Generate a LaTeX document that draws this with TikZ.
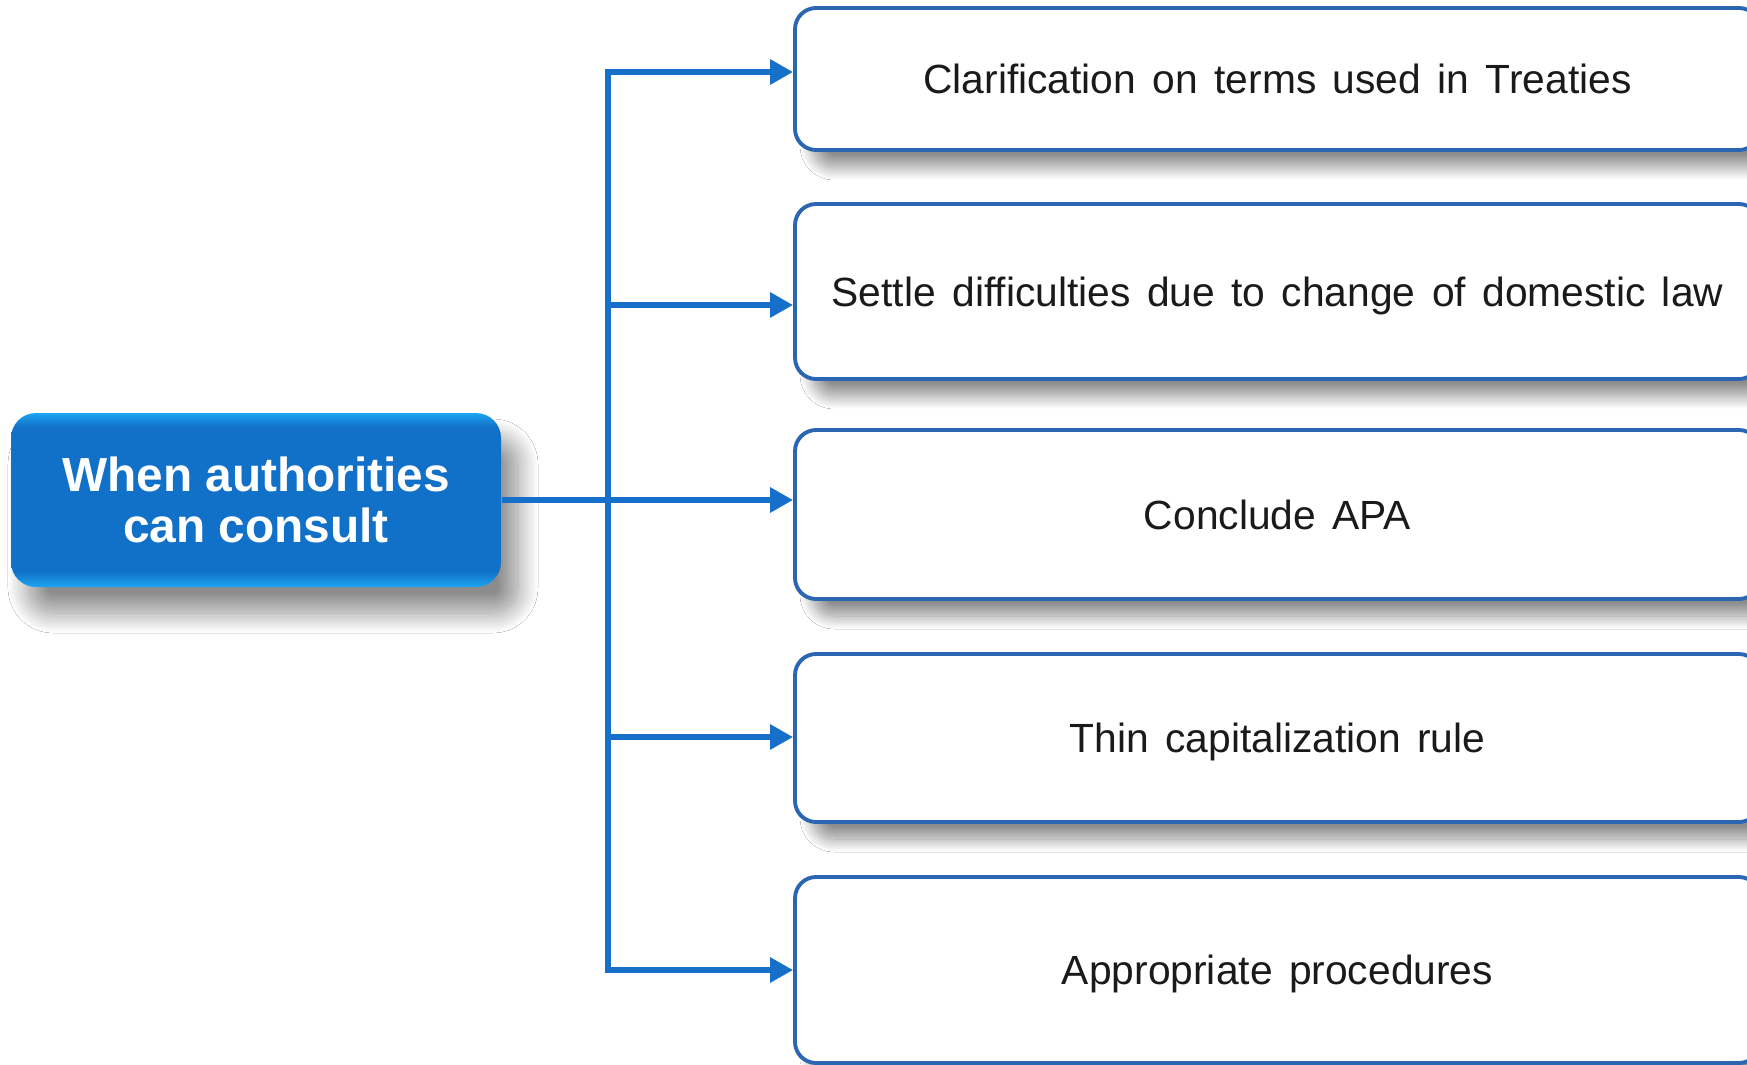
\documentclass[tikz,border=0pt]{standalone}
\usepackage{fontspec}
\setmainfont{Liberation Sans}
\newfontfamily\casefont{Liberation Sans}[WordSpace=1.45]
\usetikzlibrary{arrows.meta,shadows.blur}
\definecolor{CCBlue}{HTML}{1170C8}
\definecolor{CCEdge}{HTML}{1DA6F2}
\definecolor{CCLine}{HTML}{1670CA}
\definecolor{CCFrame}{HTML}{2C66B2}
\definecolor{CCText}{HTML}{1A1A1A}
\pgfdeclareverticalshading{CCbevel}{100bp}{color(0bp)=(CCEdge); color(25bp)=(CCEdge); color(29.5bp)=(CCBlue); color(71bp)=(CCBlue); color(75bp)=(CCEdge); color(100bp)=(CCEdge)}

\begin{document}
\begin{tikzpicture}[x=1cm,y=1cm,
  casebox/.style={draw=CCFrame,line width=1.1pt,fill=white,rounded corners=6pt,
    minimum width=9.65cm,inner sep=0pt,text height=8.3pt,text depth=0pt,text=CCText,
    font=\casefont\fontsize{11.6}{13.5}\selectfont,
    blur shadow={shadow xshift=0.18cm,shadow yshift=-0.17cm,shadow blur radius=0.13cm,
      shadow blur steps=24,shadow opacity=45}},
  rootbox/.style={shading=CCbevel,rounded corners=0.25cm,minimum width=4.9cm,minimum height=1.74cm,
    align=center,text=white,font=\bfseries\fontsize{13.6}{14.8}\selectfont,
    blur shadow={shadow xshift=0.17cm,shadow yshift=-0.26cm,shadow blur radius=0.2cm,
      shadow blur steps=24,shadow opacity=45}},
  link/.style={CCLine,line width=1.7pt},
  linkarrow/.style={link,-{Triangle[length=6.5pt,width=6.8pt]}}]
\path[use as bounding box] (0,0) rectangle (17.47,10.64);
\clip (0,0) rectangle (17.47,10.64);
\fill[white] (0,0) rectangle (17.47,10.64);
\node[rootbox] (root) at (2.56,5.64) {When authorities\\[-0.5pt]can consult};
\node[casebox,minimum height=1.42cm] (terms) at (12.775,9.85) {Clarification on terms used in Treaties};
\node[casebox,minimum height=1.75cm] (law) at (12.775,7.725) {Settle difficulties due to change of domestic law};
\node[casebox,minimum height=1.69cm] (apa) at (12.775,5.495) {Conclude APA};
\node[casebox,minimum height=1.68cm] (thin) at (12.775,3.26) {Thin capitalization rule};
\node[casebox,minimum height=1.86cm] (proc) at (12.775,0.94) {Appropriate procedures};
\coordinate (t1) at (6.08,9.92);
\coordinate (t2) at (6.08,7.59);
\coordinate (t4) at (6.08,3.27);
\coordinate (t5) at (6.08,0.94);
\draw[link,line cap=rect] (t1) -- (t5);
\draw[linkarrow] (t1) -- (t1 -| terms.west);
\draw[linkarrow] (t2) -- (t2 -| law.west);
\draw[linkarrow] (root.east) -- (root.east -| apa.west);
\draw[linkarrow] (t4) -- (t4 -| thin.west);
\draw[linkarrow] (t5) -- (t5 -| proc.west);
\end{tikzpicture}
\end{document}
